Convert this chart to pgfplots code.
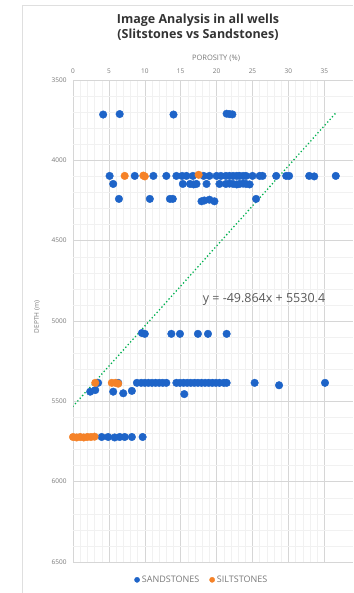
\documentclass[border=0pt]{standalone}
\usepackage{pgfplots}
\pgfplotsset{compat=1.18}
\usepackage{fontspec}
\setmainfont{Open Sans}
\definecolor{sand}{RGB}{30,100,200}
\definecolor{silt}{RGB}{245,130,40}
\definecolor{trend}{RGB}{0,176,80}
\definecolor{txt}{RGB}{120,120,120}
\begin{document}
\begin{tikzpicture}
\path[use as bounding box] (0pt,0pt) rectangle (353pt,593pt);
\draw[gray!25, line width=0.7pt] (22pt,0pt) -- (22pt,588pt) -- (353pt,588pt);
\node[font=\fontsize{12.5}{15}\selectfont\bfseries, text=black!80, align=center] at (198pt,566pt) {Image Analysis in all wells\\(Slitstones vs Sandstones)};
\node[font=\fontsize{7.5}{9}\selectfont, text=txt] at (216pt,535pt) {POROSITY (\%)};
\node[font=\fontsize{6.5}{8}\selectfont, text=txt, rotate=90] at (37pt,276pt) {DEPTH (m)};
\begin{axis}[at={(73pt,31pt)}, anchor=south west, scale only axis,
  width=280pt, height=482pt,
  xmin=0, xmax=39, ymin=-6500, ymax=-3500,
  xtick={0,5,...,35}, ytick={-6500,-6000,...,-3500},
  yticklabels={6500,6000,5500,5000,4500,4000,3500},
  minor x tick num=4, minor y tick num=4,
  grid=both,
  major grid style={gray!32, line width=0.5pt},
  minor grid style={gray!11, line width=0.4pt},
  tick style={draw=none},
  axis line style={draw=none},
  xticklabel pos=upper,
  /pgf/number format/assume math mode=true,
  /pgf/number format/1000 sep={},
  ticklabel style={font=\fontsize{6.5}{7}\selectfont, text=txt},
  xticklabel style={yshift=3pt},
  yticklabel style={xshift=-3pt},
  legend style={at={(axis description cs:0.46,-0.037)}, anchor=center, draw=none, fill=none,
    legend columns=2, font=\fontsize{9}{10}\selectfont, text=txt,
    /tikz/every even column/.append style={column sep=8pt}},
]
\addplot[only marks, mark=*, mark size=3.8pt, color=sand,
  legend image code/.code={\fill[sand] (0.2cm,0) circle (2.6pt);}] table[x=p, y expr=-\thisrow{d}] {
p d
4.2 3715
6.5 3712
14.0 3715
21.4 3710
21.8 3712
22.2 3714
5.1 4097
8.6 4097
11.2 4097
13.0 4097
14.4 4097
15.2 4097
15.8 4097
16.7 4097
18.2 4097
19.0 4097
20.0 4097
20.6 4097
21.3 4097
21.8 4097
22.3 4097
22.8 4097
23.2 4097
23.7 4097
24.1 4097
25.0 4097
26.0 4097
26.4 4097
28.3 4097
29.7 4097
30.1 4097
32.9 4097
33.6 4100
36.6 4097
5.6 4147
15.3 4147
16.3 4147
16.8 4150
17.2 4147
18.6 4147
20.4 4147
21.3 4147
21.8 4145
22.3 4147
22.8 4150
23.2 4147
23.7 4145
24.1 4147
24.6 4150
6.4 4240
10.7 4240
13.5 4240
13.9 4240
17.9 4255
18.3 4250
19.0 4245
19.7 4255
25.5 4240
9.6 5075
10.0 5080
13.7 5080
14.9 5080
17.4 5080
18.8 5080
21.4 5080
3.5 5385
6.3 5385
8.9 5385
9.5 5385
10.0 5385
10.5 5385
11.0 5385
11.5 5385
12.0 5385
12.5 5385
13.0 5385
14.4 5385
14.9 5385
15.4 5385
15.9 5385
16.4 5385
16.9 5385
17.4 5385
17.9 5385
18.4 5385
18.9 5385
19.4 5385
19.9 5385
20.4 5385
21.0 5385
21.4 5385
25.3 5385
28.7 5400
35.1 5385
2.4 5440
3.1 5430
5.6 5440
7.0 5450
8.2 5435
15.5 5455
4.0 5722
4.9 5722
5.8 5725
6.5 5722
7.2 5722
8.2 5722
9.7 5722
};
\addlegendentry{SANDSTONES}
\addplot[only marks, mark=*, mark size=3.8pt, color=silt,
  legend image code/.code={\fill[silt] (0.2cm,0) circle (2.6pt);}] table[x=p, y expr=-\thisrow{d}] {
p d
7.2 4097
9.8 4095
10.0 4100
17.5 4090
3.1 5385
5.4 5385
5.9 5385
6.3 5390
0.0 5722
0.5 5725
1.0 5722
1.5 5725
2.0 5722
2.5 5722
3.0 5720
};
\addlegendentry{SILTSTONES}
\addplot[trend, line width=1.8pt, line cap=round, dash pattern=on 0pt off 3.6pt, forget plot] table[x=p, y expr=-\thisrow{d}] {
p d
0 5530.4
36.6 3705.4
};
\node[font=\fontsize{12.5}{14}\selectfont, text=black!65] at (axis cs:26.6,-4869) {y = -49.864x + 5530.4};
\end{axis}
\end{tikzpicture}
\end{document}
